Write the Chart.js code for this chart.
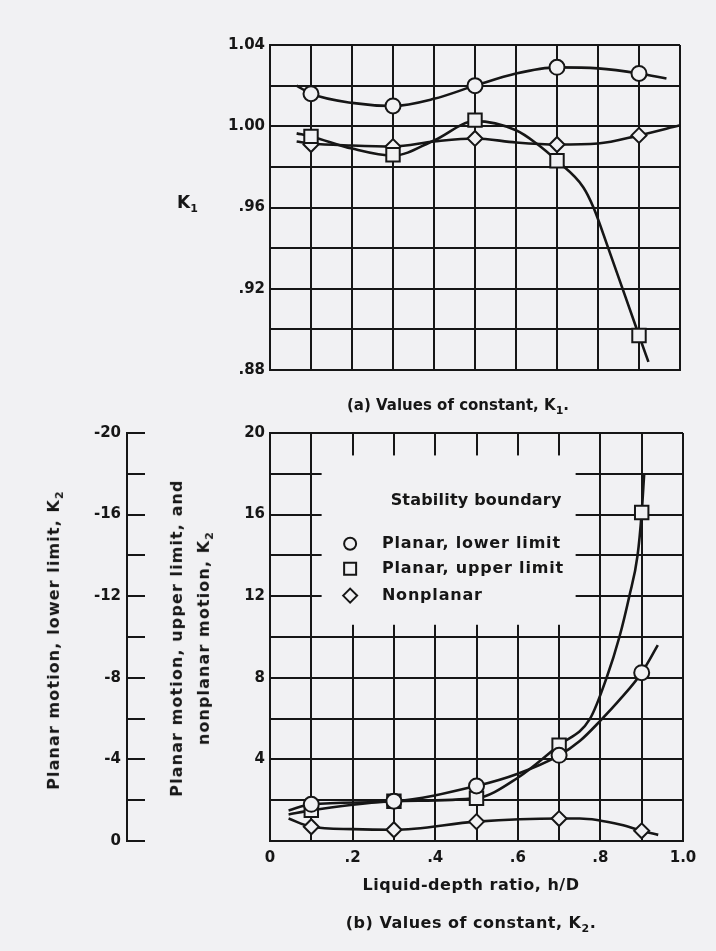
<!DOCTYPE html>
<html>
<head>
<meta charset="utf-8">
<script src="https://cdn.jsdelivr.net/npm/chart.js@4.4.0/dist/chart.umd.min.js"></script>
<style>
  html, body { margin: 0; padding: 0; background: #f1f1f3; }
  #page { position: relative; width: 716px; height: 951px; overflow: hidden; font-family: "DejaVu Sans", sans-serif; font-weight: bold; color: #161616; }
  canvas { position: absolute; left: 0; }
  #k1chart { top: 0; }
  #k2chart { top: 400px; }
  .txt { position: absolute; width: 400px; text-align: center; font-size: 16px; line-height: 20px; white-space: nowrap; }
  .rot { position: absolute; width: 400px; text-align: center; font-size: 16px; letter-spacing: 1.1px; white-space: nowrap; transform: rotate(-90deg); }
  sub { font-size: 11px; }
</style>
</head>
<body>
<div id="page">
  <canvas id="k1chart" width="716" height="400"></canvas>
  <canvas id="k2chart" width="716" height="551"></canvas>

  <div class="txt" style="left:177px; top:192px; width:40px; text-align:left; font-size:17px;">K<sub>1</sub></div>
  <div class="txt" style="left:258px; top:395px; font-size:15px;">(a) Values of constant, K<sub>1</sub>.</div>
  <div class="txt" style="left:271px; top:875px; letter-spacing:0.5px;">Liquid-depth ratio, h/D</div>
  <div class="txt" style="left:271px; top:913px; letter-spacing:0.5px;">(b) Values of constant, K<sub>2</sub>.</div>

  <div class="rot" style="left:-143px; top:627px; line-height:20px;">Planar motion, lower limit, K<sub>2</sub></div>
  <div class="rot" style="left:-7px; top:608px; line-height:27px;">Planar motion, upper limit, and<br>nonplanar motion, K<sub>2</sub></div>
</div>

<script>
// Values

const ink = '#161616';
const paper = '#f1f1f3';
const font = { family: 'DejaVu Sans', size: 15, weight: 'bold' };

// h/D where the test points sit
const hd = [0.1, 0.3, 0.5, 0.7, 0.9];

// (a) K1 test points
const k1Lower = [1.016, 1.010, 1.020, 1.029, 1.026];
const k1Upper = [0.995, 0.986, 1.003, 0.983, 0.897];
const k1Nonplanar = [0.991, 0.990, 0.994, 0.991, 0.9955];

// (a) faired curves as drawn in the figure
const k1LowerCurveX = [0.065, 0.1, 0.2, 0.3, 0.4, 0.5, 0.6, 0.7, 0.8, 0.9, 0.967];
const k1LowerCurveY = [1.020, 1.016, 1.0115, 1.010, 1.0135, 1.020, 1.026, 1.029, 1.0285, 1.026, 1.0235];
const k1UpperCurveX = [0.065, 0.1, 0.2, 0.3, 0.4, 0.5, 0.6, 0.65, 0.7, 0.764, 0.789, 0.825, 0.9, 0.923];
const k1UpperCurveY = [0.9965, 0.995, 0.989, 0.9855, 0.993, 1.0025, 0.998, 0.9915, 0.983, 0.97, 0.96, 0.94, 0.897, 0.884];
const k1NonCurveX = [0.065, 0.1, 0.2, 0.3, 0.4, 0.5, 0.6, 0.7, 0.8, 0.9, 1.0];
const k1NonCurveY = [0.9925, 0.9915, 0.9905, 0.990, 0.9925, 0.994, 0.992, 0.991, 0.9915, 0.9955, 1.0005];

// (b) K2 test points; lower limit is read on the left (negative) scale
const k2Lower = [-1.8, -1.95, -2.7, -4.2, -8.25];
const k2Upper = [1.5, 1.95, 2.1, 4.7, 16.1];
const k2Nonplanar = [0.7, 0.55, 0.95, 1.1, 0.5];

// (b) faired curves
const k2LowerCurveX = [0.045, 0.1, 0.3, 0.5, 0.6, 0.7, 0.75, 0.8, 0.85, 0.9, 0.939];
const k2LowerCurveY = [-1.5, -1.8, -1.95, -2.7, -3.3, -4.2, -4.9, -5.9, -7.0, -8.25, -9.6];
const k2UpperCurveX = [0.045, 0.1, 0.3, 0.5, 0.6, 0.7, 0.775, 0.815, 0.846, 0.87, 0.89, 0.9, 0.906];
const k2UpperCurveY = [1.3, 1.5, 1.95, 2.1, 3.1, 4.7, 6, 8, 10, 12, 14, 16.1, 18];
const k2NonCurveX = [0.045, 0.1, 0.2, 0.3, 0.5, 0.7, 0.75, 0.85, 0.9, 0.94];
const k2NonCurveY = [1.1, 0.7, 0.58, 0.55, 0.95, 1.1, 1.1, 0.8, 0.5, 0.3];

const legendLabels = ['Planar, lower limit', 'Planar, upper limit', 'Nonplanar'];
const legendStyles = ['circle', 'rect', 'rectRot'];

// --- helpers ---

function pts(xs, ys) {
  return xs.map((x, i) => ({ x: x, y: ys[i] }));
}

function markers(ys, style, axis) {
  return {
    data: pts(hd, ys),
    yAxisID: axis || 'y',
    showLine: false,
    pointStyle: style,
    pointRadius: style === 'rect' ? 9.5 : 7.5,
    pointBorderWidth: 2,
    pointBorderColor: ink,
    pointBackgroundColor: paper
  };
}

function curve(xs, ys, axis) {
  return {
    data: pts(xs, ys),
    yAxisID: axis || 'y',
    borderColor: ink,
    borderWidth: 2.6,
    pointRadius: 0,
    cubicInterpolationMode: 'monotone'
  };
}

function gridOpts(extra) {
  return Object.assign({ color: ink, lineWidth: 2, drawTicks: false }, extra || {});
}

function fmtFrac(v) {
  const s = v.toFixed(2);
  return s.startsWith('0') ? s.slice(1) : s;
}

const commonOpts = {
  responsive: false,
  animation: false,
  events: [],
  plugins: { legend: { display: false }, tooltip: { enabled: false } }
};

// --- (a) K1 chart ---

new Chart(document.getElementById('k1chart'), {
  type: 'line',
  data: {
    datasets: [
      markers(k1Lower, 'circle'),
      markers(k1Upper, 'rect'),
      markers(k1Nonplanar, 'rectRot'),
      curve(k1LowerCurveX, k1LowerCurveY),
      curve(k1UpperCurveX, k1UpperCurveY),
      curve(k1NonCurveX, k1NonCurveY)
    ]
  },
  options: Object.assign({}, commonOpts, {
    layout: { padding: { top: 45, right: 36, left: 0, bottom: 0 } },
    scales: {
      x: {
        type: 'linear', min: 0, max: 1,
        afterFit: s => { s.height = 30; },
        grid: gridOpts(),
        border: { color: ink, width: 2 },
        ticks: { stepSize: 0.1, display: false }
      },
      y: {
        type: 'linear', min: 0.88, max: 1.04,
        afterFit: s => { s.width = 270; },
        grid: gridOpts(),
        border: { color: ink, width: 2 },
        ticks: {
          stepSize: 0.02, padding: 5, color: ink, font: font,
          callback: v => {
            const k = Math.round((v - 0.88) / 0.02);
            return k % 2 === 0 ? fmtFrac(v) : '';
          }
        }
      }
    }
  })
});

// --- (b) K2 chart ---

const legendBox = {
  id: 'legendBox',
  beforeDatasetsDraw(chart) {
    const { ctx } = chart;
    const x = chart.scales.x, y = chart.scales.y;
    const left = x.getPixelForValue(0.125), right = x.getPixelForValue(0.74);
    const top = y.getPixelForValue(18.9), bottom = y.getPixelForValue(10.6);
    ctx.save();
    ctx.fillStyle = paper;
    ctx.fillRect(left, top, right - left, bottom - top);

    ctx.fillStyle = ink;
    ctx.strokeStyle = ink;
    ctx.lineWidth = 2;
    ctx.font = 'bold 16px "DejaVu Sans"';
    ctx.textBaseline = 'middle';
    ctx.textAlign = 'center';
    ctx.letterSpacing = '0.2px';
    ctx.fillText('Stability boundary', x.getPixelForValue(0.499), y.getPixelForValue(16.67));

    const rows = [14.57, 13.35, 12.03];
    const sx = x.getPixelForValue(0.194);
    ctx.textAlign = 'left';
    ctx.letterSpacing = '0.8px';
    legendLabels.forEach((label, i) => {
      const py = y.getPixelForValue(rows[i]);
      ctx.beginPath();
      if (legendStyles[i] === 'circle') {
        ctx.arc(sx, py, 6, 0, Math.PI * 2);
      } else if (legendStyles[i] === 'rect') {
        ctx.rect(sx - 6, py - 6, 12, 12);
      } else {
        ctx.moveTo(sx - 7, py); ctx.lineTo(sx, py - 7);
        ctx.lineTo(sx + 7, py); ctx.lineTo(sx, py + 7);
        ctx.closePath();
      }
      ctx.stroke();
      ctx.fillText(label, x.getPixelForValue(0.271), py);
    });
    ctx.restore();
  }
};

new Chart(document.getElementById('k2chart'), {
  type: 'line',
  data: {
    datasets: [
      markers(k2Lower, 'circle', 'y2'),
      markers(k2Upper, 'rect'),
      markers(k2Nonplanar, 'rectRot'),
      curve(k2LowerCurveX, k2LowerCurveY, 'y2'),
      curve(k2UpperCurveX, k2UpperCurveY),
      curve(k2NonCurveX, k2NonCurveY)
    ]
  },
  options: Object.assign({}, commonOpts, {
    layout: { padding: { top: 32, right: 33, left: 0, bottom: 0 } },
    scales: {
      x: {
        type: 'linear', min: 0, max: 1,
        afterFit: s => { s.height = 110; },
        grid: gridOpts(),
        border: { color: ink, width: 2 },
        ticks: {
          stepSize: 0.1, padding: 8, color: ink, font: font, maxRotation: 0, autoSkip: false,
          callback: v => {
            const k = Math.round(v * 10);
            if (k % 2 !== 0) return '';
            if (k === 0) return '0';
            if (k === 10) return '1.0';
            return '.' + k;
          }
        }
      },
      y: {
        type: 'linear', min: 0, max: 20, weight: 0,
        afterFit: s => { s.width = 143; },
        grid: gridOpts(),
        border: { color: ink, width: 2 },
        ticks: {
          stepSize: 2, padding: 5, color: ink, font: font,
          callback: v => (v % 4 === 0 && v !== 0) ? String(v) : ''
        }
      },
      y2: {
        type: 'linear', position: 'left', reverse: true, min: -20, max: 0, weight: 1,
        afterFit: s => { s.width = 127; },
        grid: { drawOnChartArea: false, drawTicks: true, tickLength: -18, color: ink, lineWidth: 2 },
        border: { color: ink, width: 2 },
        ticks: {
          stepSize: 2, padding: 24, color: ink, font: font,
          callback: v => v % 4 === 0 ? String(v) : ''
        }
      }
    }
  }),
  plugins: [legendBox]
});
</script>
</body>
</html>
